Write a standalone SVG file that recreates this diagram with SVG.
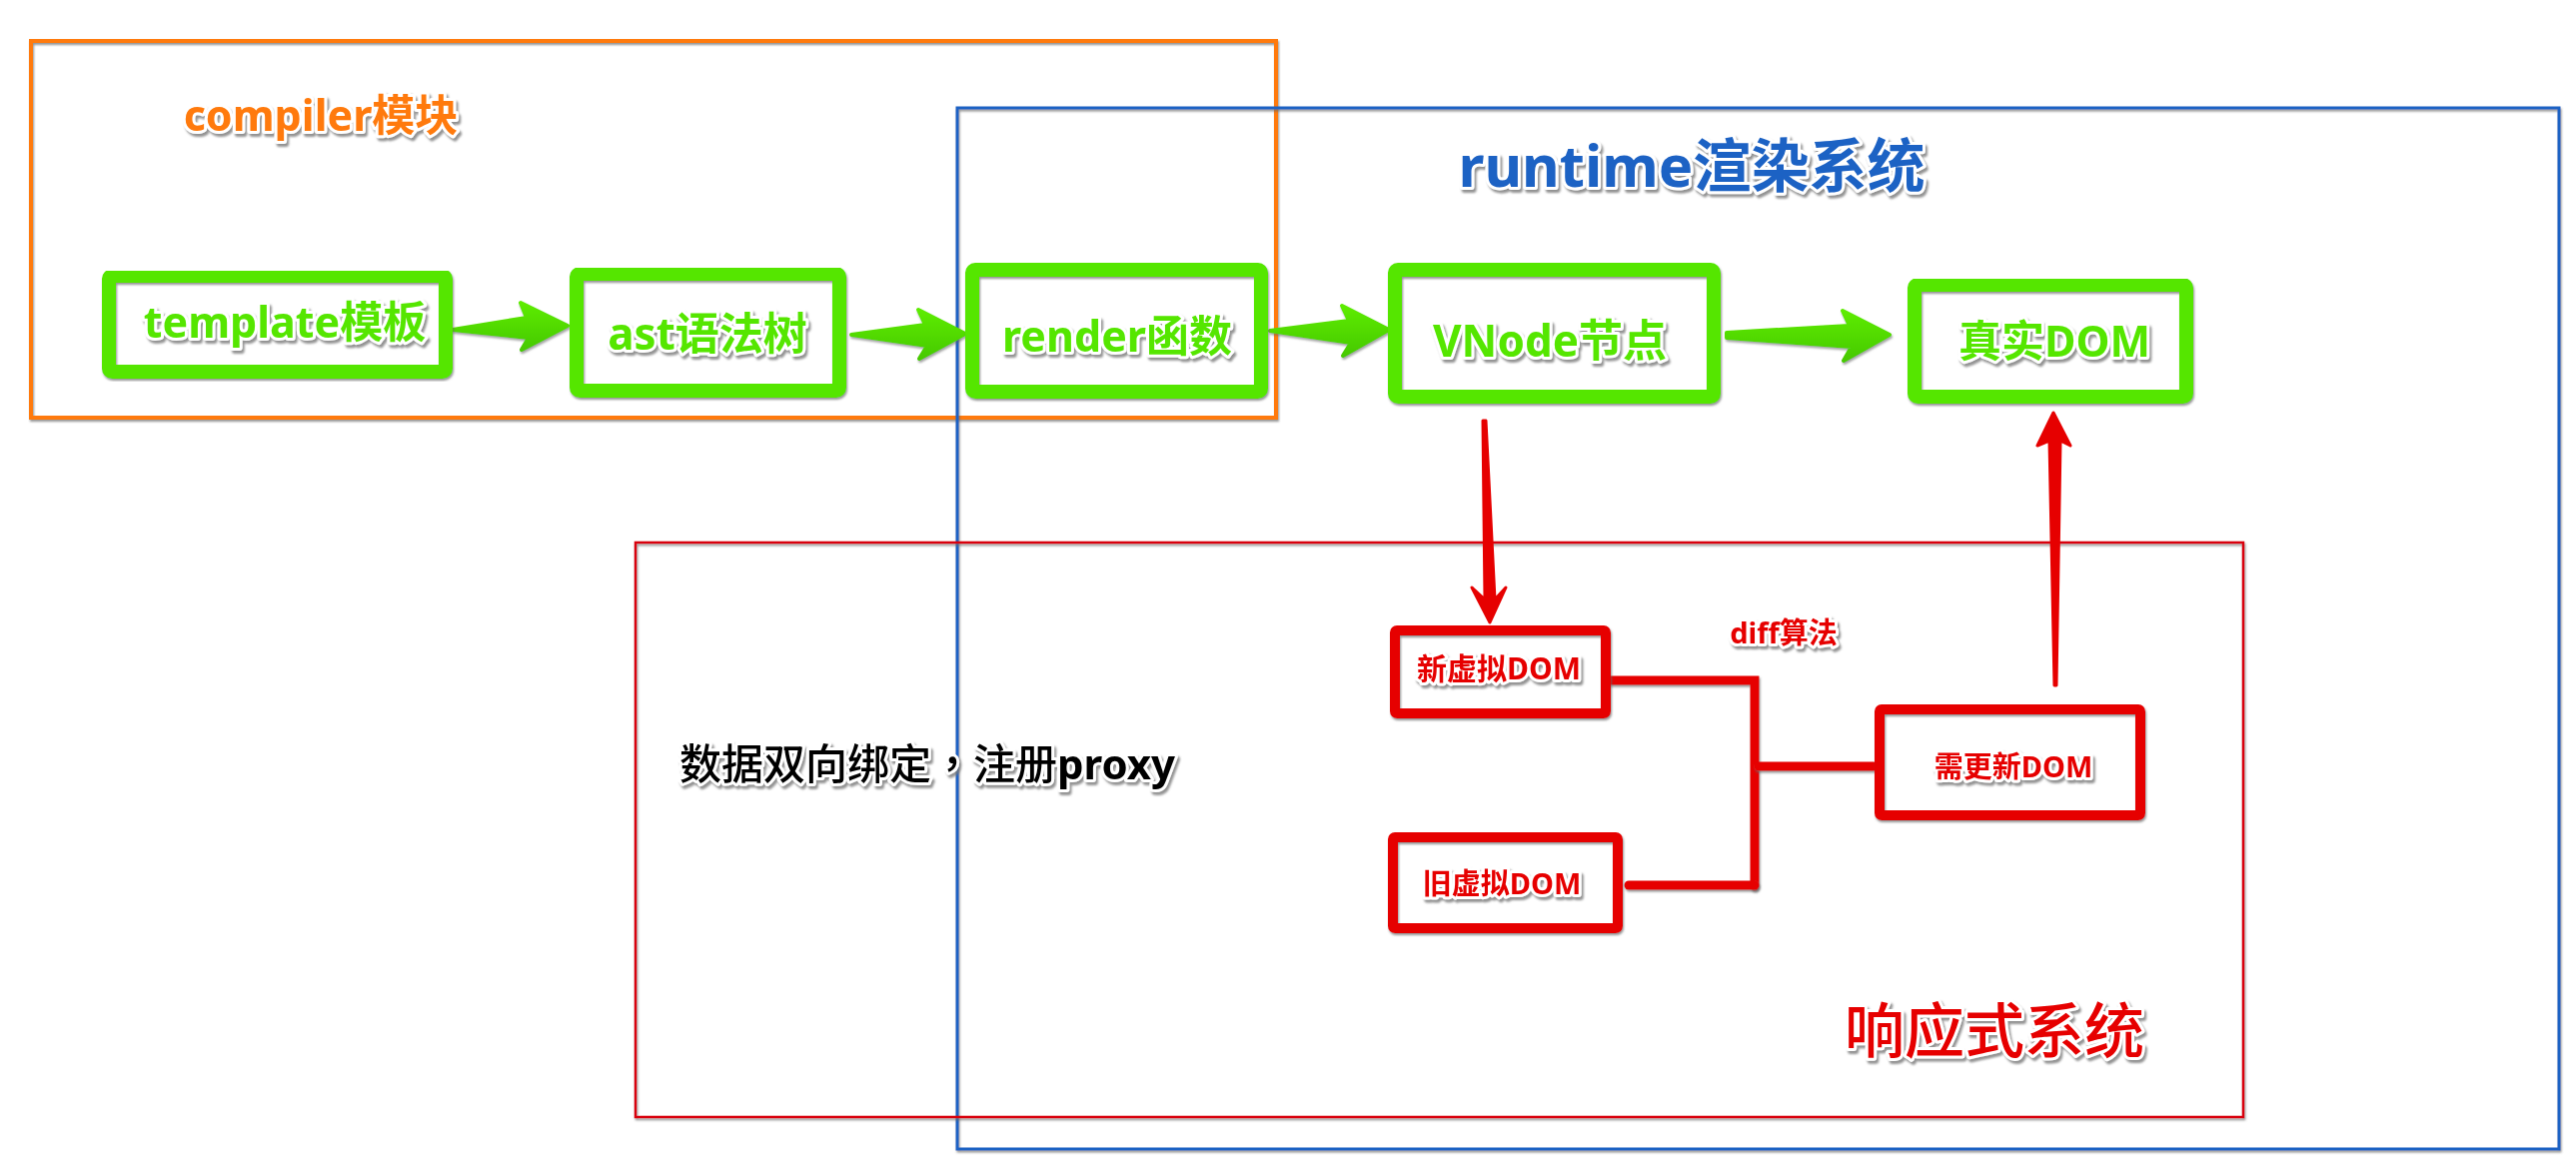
<svg xmlns="http://www.w3.org/2000/svg" width="2578" height="1160" viewBox="0 0 2578 1160">
<style>
.t{font-family:"Noto Sans","Noto Sans CJK SC",sans-serif;font-weight:bold;text-anchor:middle;paint-order:stroke;stroke:#fff;stroke-width:6;stroke-linejoin:round;filter:url(#ts)}
.g{fill:#55E600}
.r{fill:#E60000}
.gn{fill:none;stroke:#55E600;stroke-width:14;filter:url(#bs)}
.rn{fill:none;stroke:#E60000;stroke-width:10;filter:url(#bs)}
.ga{fill:url(#gg);stroke:url(#gg);stroke-width:4;stroke-linejoin:round;filter:url(#as)}
.rl{fill:none;stroke:#E60000;stroke-width:9;stroke-linecap:round;filter:url(#ls)}
.ra{fill:#E60000;stroke:#E60000;stroke-width:3;stroke-linejoin:round}
</style>
<defs>
<filter id="ts" x="-10%" y="-30%" width="120%" height="170%"><feDropShadow dx="2" dy="3" stdDeviation="1" flood-color="#777" flood-opacity="0.8"/></filter>
<filter id="bs" x="-5%" y="-5%" width="110%" height="115%"><feDropShadow dx="1" dy="2" stdDeviation="0.8" flood-color="#666" flood-opacity="0.7"/></filter>
<filter id="ls" filterUnits="userSpaceOnUse" x="0" y="0" width="2578" height="1160"><feDropShadow dx="1" dy="2" stdDeviation="0.8" flood-color="#666" flood-opacity="0.7"/></filter>
<filter id="as" x="-10%" y="-20%" width="120%" height="150%"><feDropShadow dx="1" dy="2" stdDeviation="1" flood-color="#666" flood-opacity="0.6"/></filter>
<linearGradient id="gg" x1="0" y1="0" x2="0" y2="1"><stop offset="0" stop-color="#5DEC00"/><stop offset="1" stop-color="#47C900"/></linearGradient>
</defs>
<rect width="2578" height="1160" fill="#fff"/>

<g id="regions">
<rect id="compiler-box" x="31" y="41" width="1246" height="377" fill="none" stroke="#FF7A0A" stroke-width="4" filter="url(#bs)"/>
<rect id="runtime-box" x="958" y="108" width="1603" height="1042" fill="none" stroke="#1E62C4" stroke-width="3" filter="url(#bs)"/>
<rect id="reactive-box" x="636" y="543" width="1609" height="575" fill="none" stroke="#D9000F" stroke-width="2.5" filter="url(#bs)"/>
</g>

<g id="labels">
<text class="t" x="321" y="131" font-size="43" fill="#FF7A0A">compiler模块</text>
<text class="t" x="1693" y="187" font-size="58" fill="#1E62C4">runtime渲染系统</text>
<text class="t" x="928" y="780" font-size="42" fill="#000"><tspan style="font-weight:500">数据双向绑定</tspan><tspan style="font-weight:500;font-family:'Noto Sans CJK TC',sans-serif">，</tspan><tspan style="font-weight:500">注册</tspan>proxy</text>
<text class="t" x="1996" y="1054" font-size="60" style="font-weight:500" fill="#E60000">响应式系统</text>
<text class="t" x="1785" y="644" font-size="29" fill="#E60000">diff算法</text>
</g>

<g id="connectors">
<path class="ga" d="M453,330 L527,318 L521,303 L568,326 L522,350 L529,338 Z"/>
<path class="ga" d="M852,335 L926,325 L919,310 L966,334 L920,359 L928,346 Z"/>
<path class="ga" d="M1271,331 L1350,321 L1343,306 L1390,330 L1344,356 L1352,343 Z"/>
<path class="ga" d="M1728,333 L1851,326 L1844,311 L1891,335 L1845,361 L1853,347 L1728,338 Z"/>
<path class="ra" d="M1484,421 L1487,421 L1496,600 L1507,588 L1491,623 L1473,588 L1486,600 Z"/>
<path class="ra" d="M2056,686 L2058,686 L2062,441 L2072,446 L2055,413 L2039,446 L2051,441 Z"/>
<path class="rl" d="M1612,681 H1756 V887"/>
<path class="rl" d="M1630,886 H1756"/>
<path class="rl" d="M1760,767 H1875"/>
</g>

<g id="node-template">
<rect class="gn" x="109" y="276" width="337" height="96" rx="3"/>
<text class="t g" x="285" y="338" font-size="43">template模板</text>
</g>
<g id="node-ast">
<rect class="gn" x="577" y="274" width="263" height="117" rx="3"/>
<text class="t g" x="708" y="350" font-size="44">ast语法树</text>
</g>
<g id="node-render">
<rect class="gn" x="973" y="270" width="289" height="122" rx="3"/>
<text class="t g" x="1118" y="352" font-size="43">render函数</text>
</g>
<g id="node-vnode">
<rect class="gn" x="1396" y="270" width="319" height="127" rx="3"/>
<text class="t g" x="1551" y="357" font-size="44">VNode节点</text>
</g>
<g id="node-realdom">
<rect class="gn" x="1916" y="285" width="272" height="112" rx="3"/>
<text class="t g" x="2056" y="357" font-size="43">真实DOM</text>
</g>
<g id="node-newvdom">
<rect class="rn" x="1396" y="631" width="211" height="83" rx="2"/>
<text class="t r" x="1500" y="680" font-size="30">新虚拟DOM</text>
</g>
<g id="node-oldvdom">
<rect class="rn" x="1394" y="838" width="225" height="91" rx="2"/>
<text class="t r" x="1503" y="895" font-size="29">旧虚拟DOM</text>
</g>
<g id="node-update">
<rect class="rn" x="1881" y="710" width="261" height="106" rx="2"/>
<text class="t r" x="2015" y="778" font-size="29">需更新DOM</text>
</g>
</svg>
